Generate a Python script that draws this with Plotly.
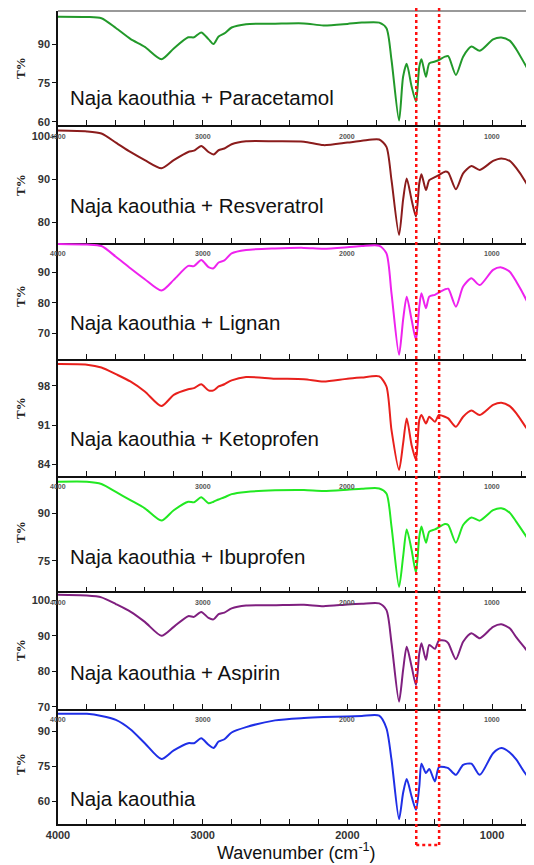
import plotly.graph_objects as go

# ---------------- data ----------------
wavenumber = [4000, 3800, 3700, 3600, 3500, 3400, 3285, 3200, 3100, 3060, 3010, 2960, 2925, 2890,
              2850, 2800, 2700, 2500, 2300, 2165, 2000, 1900, 1780, 1730, 1695, 1643, 1615, 1590,
              1556, 1526, 1503, 1488, 1457, 1434, 1395, 1368, 1326, 1303, 1250, 1200, 1143, 1085,
              993, 936, 878, 832, 763, 710]

paracetamol = [100.7, 100.6, 100.1, 96.3, 92.1, 89.0, 84.2, 88.4, 92.7, 92.7, 94.6, 92.0, 90.1, 93.0,
               94.2, 96.5, 97.8, 98.0, 98.1, 97.3, 97.9, 98.4, 98.4, 96.2, 83.9, 60.4, 77.4, 82.4,
               73.6, 67.8, 81.3, 84.2, 77.4, 82.6, 83.3, 83.9, 85.2, 85.4, 78.1, 85.2, 89.1, 87.5,
               91.9, 92.6, 91.4, 88.0, 81.3, 76.4]

resveratrol = [101.4, 101.2, 100.7, 98.6, 96.4, 94.5, 92.6, 94.5, 96.4, 96.7, 97.8, 96.4, 95.8, 96.8,
               97.2, 98.2, 98.9, 98.9, 98.8, 98.0, 98.6, 99.0, 99.3, 97.6, 89.8, 77.0, 85.2, 90.2,
               85.2, 81.3, 89.1, 91.2, 87.5, 89.8, 90.5, 91.0, 91.8, 91.6, 87.7, 91.4, 93.1, 92.2,
               94.3, 94.9, 94.3, 92.6, 89.1, 85.6]

lignan = [99.3, 99.1, 98.6, 95.1, 91.3, 87.7, 84.0, 87.5, 92.1, 92.0, 94.0, 91.7, 91.3, 93.2,
          93.9, 96.2, 97.3, 97.8, 98.0, 97.7, 98.2, 98.6, 98.7, 96.2, 83.1, 62.9, 74.4, 82.0,
          74.4, 67.8, 78.7, 83.1, 78.2, 82.0, 82.6, 83.3, 84.4, 84.6, 78.7, 85.3, 88.0, 85.8,
          90.8, 91.6, 90.2, 86.9, 80.9, 75.4]

ketoprofen = [101.9, 101.8, 101.3, 100.1, 98.8, 97.0, 94.4, 96.4, 97.4, 97.6, 98.3, 97.2, 97.2, 97.9,
              98.3, 99.0, 99.6, 99.3, 99.2, 98.8, 99.3, 99.5, 99.7, 97.9, 90.1, 83.0, 87.7, 92.2,
              87.4, 84.8, 91.9, 92.8, 91.3, 92.5, 91.6, 92.8, 92.5, 92.2, 90.7, 92.5, 93.6, 92.8,
              94.6, 95.0, 94.4, 93.1, 90.5, 88.7]

ibuprofen = [100.0, 100.0, 99.3, 96.8, 94.2, 91.6, 87.7, 91.0, 93.7, 93.5, 95.1, 93.2, 93.7, 94.4,
             95.1, 96.1, 96.8, 97.3, 97.4, 97.1, 97.5, 97.8, 97.9, 96.3, 85.8, 66.7, 76.2, 84.9,
             78.4, 71.2, 82.6, 85.8, 80.7, 84.2, 84.9, 85.6, 86.6, 86.3, 80.7, 86.3, 88.7, 87.7,
             91.0, 91.6, 90.2, 87.3, 82.6, 78.9]

aspirin = [101.5, 101.3, 100.8, 98.9, 96.8, 93.9, 90.0, 92.5, 95.5, 95.3, 96.7, 95.0, 94.6, 96.1,
           96.5, 97.7, 98.5, 98.6, 98.7, 98.3, 98.8, 99.0, 99.1, 97.2, 87.9, 71.4, 80.3, 86.9,
           81.3, 76.1, 85.0, 87.9, 83.2, 87.4, 86.3, 88.6, 88.6, 87.9, 83.4, 88.3, 90.7, 89.3,
           92.5, 93.2, 92.1, 89.5, 86.0, 82.2]

naja_kaouthia = [97.6, 97.6, 96.7, 95.0, 91.0, 85.0, 78.2, 81.9, 85.0, 85.0, 87.1, 84.3, 82.9, 85.7,
                 86.7, 89.6, 91.9, 94.8, 95.8, 96.2, 96.5, 96.7, 96.8, 91.4, 77.9, 52.4, 63.6, 69.6,
                 62.1, 56.4, 66.4, 76.2, 72.2, 73.9, 68.6, 74.7, 74.7, 74.3, 71.4, 75.7, 76.2, 71.4,
                 80.7, 82.9, 81.0, 77.9, 71.4, 69.3]

series_labels = ["Naja kaouthia + Paracetamol", "Naja kaouthia + Resveratrol", "Naja kaouthia + Lignan",
                 "Naja kaouthia + Ketoprofen", "Naja kaouthia + Ibuprofen", "Naja kaouthia + Aspirin",
                 "Naja kaouthia"]
series_values = [paracetamol, resveratrol, lignan, ketoprofen, ibuprofen, aspirin, naja_kaouthia]

y_tickvals = [[60, 75, 90], [80, 90, 100], [70, 80, 90], [84, 91, 98], [75, 90],
              [70, 80, 90, 100], [60, 75, 90]]
x_tick_labels = [4000, 3000, 2000, 1000]
highlight_band = [1524, 1366]

# ---------------- styling / layout ----------------
colors = ["#22992a", "#8b1c1c", "#ee22ee", "#e8201c", "#22e822", "#7f1f7f", "#1f2fe6"]
y_ranges = [[58.7, 102.9], [75.2, 102.7], [61.7, 99.7], [82.0, 102.9], [65.3, 102.0],
            [69.5, 102.5], [50.3, 99.9]]

# the page body adds an 8px margin; figure placed so its bottom meets the window bottom
OFF = 8
W, H = 534 - 2 * OFF, 865 - OFF
PLOT_L, PLOT_T, PLOT_B = 58, 11, 824          # page pixel coordinates of plot area
ML, MR, MT, MB = PLOT_L - OFF, 0, PLOT_T - OFF, H - (PLOT_B - OFF)
plot_w = W - ML - MR
plot_h = H - MT - MB
x_right = 1000 - (PLOT_L + plot_w - 492) / 0.145
bounds_px = [11, 125, 242.7, 358.5, 475.5, 591.3, 708.5, 824]


def ypaper(px):
    return (PLOT_B - px) / plot_h


def xpaper(px):
    return (px - PLOT_L) / plot_w


fig = go.Figure()
layout = dict(width=W, height=H, margin=dict(l=ML, r=MR, t=MT, b=MB, autoexpand=False),
              paper_bgcolor="white", plot_bgcolor="white", showlegend=False)
annotations = []
shapes = []
tick_font = dict(family="Liberation Sans, Arial", size=11, color="#333", weight="bold")

for i, (vals, col) in enumerate(zip(series_values, colors)):
    n = i + 1
    sfx = "" if n == 1 else str(n)
    fig.add_trace(go.Scatter(x=wavenumber, y=vals, mode="lines",
                             line=dict(color=col, width=2, shape="spline", smoothing=0.7),
                             xaxis="x" + sfx, yaxis="y" + sfx, hoverinfo="skip"))
    dom = [ypaper(bounds_px[i + 1]), ypaper(bounds_px[i])]
    last = (n == 7)
    layout["xaxis" + sfx] = dict(
        domain=[0, 1], anchor="y" + sfx, range=[4000, x_right], automargin=False,
        showline=True, linecolor="#111", linewidth=1.5, showgrid=False, zeroline=False,
        tickvals=x_tick_labels, ticktext=[str(v) for v in x_tick_labels],
        ticks="inside", ticklen=5, tickcolor="#111",
        minor=dict(ticks="inside", dtick=200, tick0=0, ticklen=5, tickcolor="#111", showgrid=False),
        showticklabels=last, tickfont=tick_font,
    )
    layout["yaxis" + sfx] = dict(
        domain=dom, anchor="x" + sfx, range=y_ranges[i], automargin=False,
        showline=True, linecolor="#111", linewidth=1.5, showgrid=False, zeroline=False,
        tickvals=y_tickvals[i], ticks="outside", ticklen=4, tickcolor="#111",
        tickfont=tick_font,
    )
    # panel label
    label_y_px = [97, 206, 322, 438, 556, 672, 798][i]
    annotations.append(dict(text=series_labels[i], xref="paper", yref="paper",
                            x=xpaper(68), y=ypaper(label_y_px), xanchor="left", yanchor="middle",
                            showarrow=False,
                            font=dict(family="Liberation Sans, Arial", size=20.5, color="#111")))
    # axis title T%
    ttl_y_px = [68, 185, 296, 408, 532, 650, 764][i]
    annotations.append(dict(text="T%", xref="paper", yref="paper", x=xpaper(20), y=ypaper(ttl_y_px),
                            xanchor="center", yanchor="middle", textangle=-90, showarrow=False,
                            font=dict(family="Liberation Serif, Times New Roman", size=13,
                                      color="#222", weight="bold")))
    # small residual tick labels near the top of some panels
    if n in (2, 3, 5, 6, 7):
        for v in x_tick_labels:
            annotations.append(dict(text=str(v), xref="x" + sfx, yref="paper", x=v,
                                    y=ypaper(bounds_px[i] + 11), xanchor="center", yanchor="middle",
                                    showarrow=False,
                                    font=dict(family="Liberation Sans, Arial", size=7,
                                              color="#555", weight="bold")))

# top border of first panel
shapes.append(dict(type="line", xref="paper", yref="paper", x0=0, x1=1, y0=1, y1=1,
                   line=dict(color="#777", width=1.5)))

# red dotted highlight box
y_top, y_bot = ypaper(OFF), ypaper(845)
for wv in highlight_band:
    shapes.append(dict(type="line", xref="x7", yref="paper", x0=wv, x1=wv, y0=y_bot, y1=y_top,
                       line=dict(color="#ff1010", width=2.5, dash="dot"), layer="above"))
shapes.append(dict(type="line", xref="x7", yref="paper", x0=highlight_band[0], x1=highlight_band[1],
                   y0=y_bot, y1=y_bot, line=dict(color="#ff1010", width=2.5, dash="dot"),
                   layer="above"))

# x-axis title
annotations.append(dict(text="Wavenumber (cm<sup>-1</sup>)", xref="paper", yref="paper",
                        x=xpaper(296), y=ypaper(851), xanchor="center", yanchor="middle",
                        showarrow=False,
                        font=dict(family="Liberation Sans, Arial", size=18, color="#111")))

layout["annotations"] = annotations
layout["shapes"] = shapes
fig.update_layout(**layout)
fig.write_html("out.html")
